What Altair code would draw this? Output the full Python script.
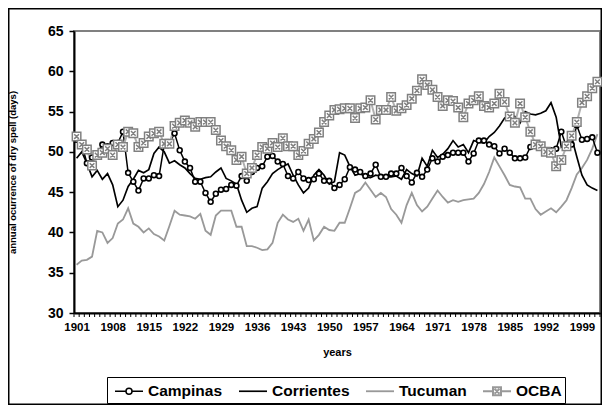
import altair as alt
import pandas as pd

years = list(range(1901, 2003))
label_years = list(range(1901, 2000, 7))
y_ticks = [30, 35, 40, 45, 50, 55, 60, 65]
series_names = ["Campinas", "Corrientes", "Tucuman", "OCBA"]

campinas = [
    51.5, 51.0, 48.6, 49.3, 49.8, 50.9, 50.7, 51.1, 51.1, 52.5,
    47.4, 46.3, 45.2, 46.7, 46.7, 47.1, 47.0, 50.9, 51.1, 52.3,
    50.2, 48.8, 48.0, 46.3, 46.3, 44.9, 43.8, 44.8, 45.3, 45.4,
    45.9, 45.8, 47.0, 46.4, 47.5, 48.0, 48.2, 49.4, 49.5, 48.8,
    48.5, 47.0, 46.7, 47.5, 46.7, 46.5, 46.6, 47.3, 46.4, 46.4,
    45.5, 45.9, 46.6, 48.1, 47.8, 47.5, 47.0, 47.3, 48.4, 46.9,
    46.9, 47.3, 47.3, 48.0, 47.0, 46.2, 47.4, 46.9, 47.8, 49.2,
    48.8, 49.4, 49.6, 49.9, 49.9, 49.9, 48.8, 49.8, 51.4, 51.4,
    50.9, 50.7, 49.8, 50.4, 49.9, 49.2, 49.2, 49.3, 50.6, 50.9,
    50.7, 50.2, 50.2, 50.4, 52.5, 50.6, 50.9, 53.3, 51.5, 51.6,
    51.8, 49.9,
]
corrientes = [
    49.2, 50.0, 48.6, 46.9, 47.7, 46.6, 47.3, 45.9, 43.2, 44.0,
    45.7, 46.6, 47.7, 47.4, 47.8, 49.8, 50.6, 50.0, 48.6, 48.9,
    48.4, 48.0, 47.3, 46.7, 46.6, 46.8, 46.9, 47.5, 48.0, 46.7,
    46.4, 46.0, 44.0, 42.5, 43.0, 43.2, 45.5, 46.3, 47.3, 47.8,
    48.2, 48.5, 47.1, 45.9, 44.9, 45.5, 47.1, 47.8, 47.1, 46.0,
    46.3, 49.9, 49.6, 48.2, 47.1, 47.3, 46.9, 46.8, 47.1, 47.0,
    46.9, 46.9, 47.0, 46.6, 47.8, 47.3, 47.0, 49.2, 48.2, 50.2,
    49.3, 49.7, 50.4, 51.4, 50.6, 50.9, 49.9, 51.4, 51.2, 51.1,
    51.9, 52.4, 53.2, 54.2, 54.6, 54.4, 53.6, 55.0, 54.7, 54.6,
    54.8, 55.1, 56.1, 54.3, 50.6, 51.2, 51.8, 49.4, 47.1, 45.9,
    45.5, 45.2,
]
tucuman = [
    36.0, 36.5, 36.6, 37.0, 40.2, 40.0, 38.7, 39.3, 41.1, 41.6,
    43.0, 41.1, 40.7, 40.0, 40.5, 39.8, 39.5, 39.0, 40.8, 42.7,
    42.2, 42.1, 42.0, 41.7, 42.3, 40.2, 39.7, 42.1, 42.7, 42.7,
    42.7, 40.7, 40.7, 38.3, 38.3, 38.1, 37.8, 37.9, 38.7, 41.2,
    42.2, 41.6, 41.3, 41.7, 40.2, 41.6, 39.0, 39.7, 40.7, 40.3,
    40.2, 41.2, 41.2, 43.0, 44.9, 45.3, 46.2, 45.3, 44.4, 44.9,
    44.4, 42.9, 42.2, 41.2, 43.4, 44.9, 43.4, 42.6, 43.2, 44.2,
    45.2, 44.4, 43.7, 44.0, 43.8, 44.0, 44.1, 44.2, 44.9, 46.0,
    47.5, 49.3, 48.2, 47.1, 45.9, 45.7, 45.6, 44.2, 44.2, 42.9,
    42.2, 42.6, 43.0, 42.5, 43.2, 44.0, 45.5, 47.2, 48.0, 49.0,
    50.4, 52.2,
]
ocba = [
    51.9, 50.9, 50.3, 48.3, 49.6, 49.9, 50.4, 49.6, 50.9, 50.6,
    52.5, 52.3, 50.6, 51.1, 51.9, 52.3, 52.5, 51.0, 51.0, 53.2,
    53.6, 53.9, 53.6, 53.1, 53.7, 53.7, 53.7, 52.7, 51.4, 50.7,
    50.2, 49.0, 49.4, 47.3, 48.0, 49.6, 50.6, 50.4, 51.1, 50.6,
    51.7, 50.7, 50.7, 49.6, 50.1, 51.0, 51.6, 52.4, 53.7, 54.5,
    55.2, 55.3, 55.4, 55.4, 54.2, 55.4, 55.5, 56.4, 54.0, 55.2,
    55.2, 56.8, 55.1, 55.4, 55.8, 56.6, 57.6, 59.0, 58.3, 57.7,
    56.8, 55.7, 56.4, 56.3, 55.5, 54.3, 56.0, 56.4, 56.9, 55.7,
    55.5, 56.0, 57.2, 56.2, 54.4, 53.6, 56.0, 54.3, 52.5, 50.9,
    50.7, 50.0, 49.9, 48.2, 49.0, 50.7, 52.0, 53.7, 56.1, 56.9,
    57.9, 58.7,
]

values_by_series = {
    "Tucuman": tucuman,
    "Corrientes": corrientes,
    "Campinas": campinas,
    "OCBA": ocba,
}
rows = []
for name, vals in values_by_series.items():
    for yr, v in zip(years, vals):
        rows.append({"year": yr, "value": v, "series": name})
df = pd.DataFrame(rows)

bounds = pd.DataFrame({"year": [years[0] - 0.5 + i for i in range(len(years) + 1)]})

FONT = "Liberation Sans"
PAD_L, PAD_T, PAD_R, PAD_B = 66, 23, 2, 92
W, H = 526, 282
series_colors = ["#000000", "#000000", "#999999", "#b0b0b0"]

x_scale = alt.Scale(domain=[years[0] - 0.5, years[-1] + 0.5], nice=False, zero=False)
y_scale = alt.Scale(domain=[30, 65], nice=False, zero=False)


def x_enc():
    return alt.X(
        "year:Q", scale=x_scale, title="years",
        axis=alt.Axis(
            values=label_years, format="d", ticks=False, grid=False,
            labelFontSize=11.5, labelFontWeight="bold",
            labelPadding=8, labelFlush=False, labelOverlap=False,
            domainColor="black", domainWidth=2,
            titleFontSize=11, titleFontWeight="bold", titlePadding=14,
            labelColor="black", titleColor="black",
        ),
    )


def y_enc():
    return alt.Y(
        "value:Q", scale=y_scale, title="annual ocurrence of dry spell (days)",
        axis=alt.Axis(
            values=y_ticks, grid=False, tickSize=5, tickColor="black", tickWidth=1.5,
            domainColor="black", domainWidth=2,
            labelFontSize=14, labelFontWeight="bold", labelPadding=6,
            labelColor="black", titleColor="black",
            titleFontSize=9.5, titleFontWeight="bold",
            titleX=-57, titleY=H / 2,
        ),
    )


lines = alt.Chart(df).mark_line().encode(
    x=x_enc(), y=y_enc(),
    color=alt.Color("series:N",
                    scale=alt.Scale(domain=series_names, range=series_colors),
                    legend=None),
    strokeWidth=alt.StrokeWidth(
        "series:N",
        scale=alt.Scale(domain=series_names, range=[1.5, 2, 2, 1.5]),
        legend=None,
    ),
)

camp_pts = alt.Chart(df).transform_filter(
    alt.datum.series == "Campinas"
).mark_point(
    shape="circle", size=24, filled=True, fill="white",
    stroke="black", strokeWidth=1.6, opacity=1,
).encode(x=x_enc(), y=y_enc())

ocba_marker = ("M-1,-1L1,-1L1,1L-1,1Z"
               "M-0.55,-0.55L0.55,0.55M0.55,-0.55L-0.55,0.55")
ocba_pts = alt.Chart(df).transform_filter(
    alt.datum.series == "OCBA"
).mark_point(
    shape=ocba_marker, size=72, filled=True, fill="white",
    stroke="#808080", strokeWidth=1.5, opacity=1,
).encode(x=x_enc(), y=y_enc())

# legend-only layer: invisible points, visible legend symbols
camp_sym = ("M-1.4,0L-0.3,0M0.3,0L1.4,0"
            "M-0.3,0A0.3,0.3,0,1,0,0.3,0A0.3,0.3,0,1,0,-0.3,0")
ocba_sym = ("M-1.4,0L-0.4,0M0.4,0L1.4,0M-0.4,-0.4L0.4,-0.4L0.4,0.4L-0.4,0.4Z"
            "M-0.25,-0.25L0.25,0.25M0.25,-0.25L-0.25,0.25")
line_sym = "M-1.4,0L1.4,0"
leg = alt.Legend(
    title=None, orient="none", legendX=33, legendY=346,
    direction="horizontal", strokeColor="black", padding=3,
    labelFont=FONT, labelFontSize=15.5, labelFontWeight="bold",
    labelColor="black", labelOffset=8, columnPadding=11,
    symbolSize=400, symbolOffset=8, symbolStrokeWidth=2,
    symbolFillColor="white", symbolOpacity=1,
)
legend_layer = alt.Chart(df).mark_point(
    filled=True, fill="white", strokeWidth=2, opacity=0
).encode(
    x=x_enc(), y=y_enc(),
    stroke=alt.Stroke("series:N",
                      scale=alt.Scale(domain=series_names,
                                      range=["#000000", "#000000", "#999999", "#999999"]),
                      legend=leg),
    shape=alt.Shape("series:N",
                    scale=alt.Scale(domain=series_names,
                                    range=[camp_sym, line_sym, line_sym, ocba_sym]),
                    legend=leg),
)

minor_ticks = alt.Chart(bounds).mark_rule(color="black", strokeWidth=1).encode(
    x=x_enc(), y=alt.value(H), y2=alt.value(H + 4)
)

frame = alt.Chart(pd.DataFrame({"k": [0]})).mark_rect(
    fill="transparent", stroke="black", strokeWidth=1.5
).encode(
    x=alt.value(-PAD_L + 0.75), x2=alt.value(W + PAD_R - 0.75),
    y=alt.value(-PAD_T + 0.75), y2=alt.value(H + PAD_B - 0.75),
)

chart = alt.layer(
    frame, minor_ticks, legend_layer, lines, camp_pts, ocba_pts
).properties(
    width=W, height=H,
    autosize=alt.AutoSizeParams(type="none"),
    padding={"left": PAD_L, "top": PAD_T, "right": PAD_R, "bottom": PAD_B},
).configure(
    font=FONT,
).configure_view(
    stroke="#808080", strokeWidth=2,
).configure_axis(
    labelFont=FONT, titleFont=FONT,
).configure_axisX(
    labelOverlap=False,
)

chart.save("out.html", embed_options={"renderer": "svg", "actions": False})
